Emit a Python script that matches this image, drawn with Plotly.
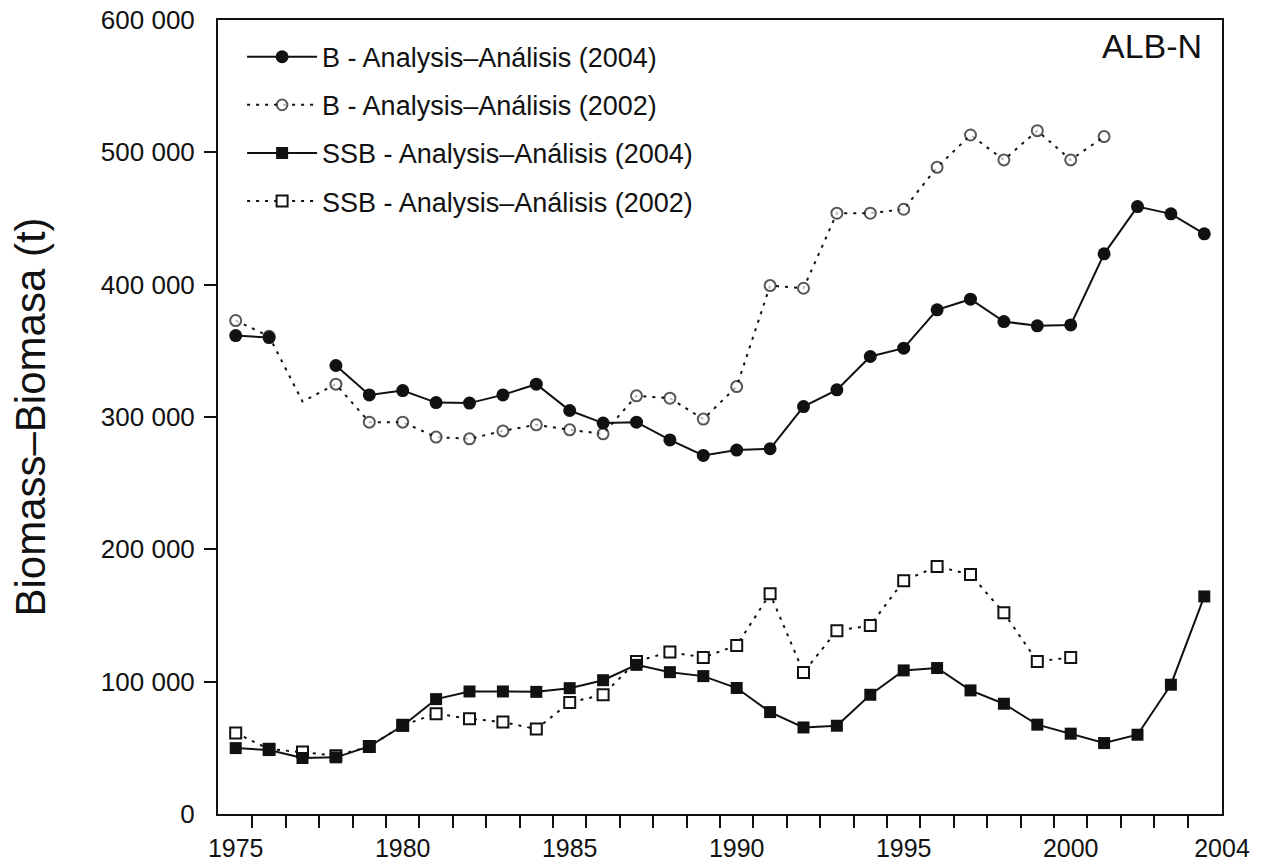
import plotly.graph_objects as go

years = list(range(1975, 2005))

# biomass (t)
b_2004 = [361500, 360000, None, 338900, 316700, 320000, 310900, 310500, 316700, 324800,
          304900, 295400, 296100, 282700, 271000, 275000, 276000, 307900, 320500, 345700,
          352000, 381000, 389000, 372100, 368900, 369600, 423300, 459000, 453500, 438400]
b_2002 = [372900, 361000, 311700, 324800, 296100, 296100, 284800, 283500, 289500, 294100,
          290300, 287300, 316000, 314200, 298400, 323000, 399300, 397300, 454000, 454000,
          457000, 488700, 513100, 494300, 516400, 494300, 511900]
ssb_2004 = [49800, 48300, 42300, 42800, 51100, 66700, 86800, 92600, 92600, 92300,
            95100, 101100, 112700, 107200, 104200, 95200, 77000, 65400, 66700, 90100,
            108500, 110300, 93400, 83300, 67500, 60700, 53600, 59900, 97700, 164400]
ssb_2002 = [61200, 49000, 46800, 44000, 51000, 67000, 75800, 72000, 69500, 64200,
            84300, 90100, 115300, 122400, 118300, 127400, 166400, 107000, 138500, 142500,
            176300, 187000, 181000, 152000, 115300, 118300]

names = ["B - Analysis\u2013An\u00e1lisis (2004)", "B - Analysis\u2013An\u00e1lisis (2002)",
         "SSB - Analysis\u2013An\u00e1lisis (2004)", "SSB - Analysis\u2013An\u00e1lisis (2002)"]
x_tick_years = [1975, 1980, 1985, 1990, 1995, 2000, 2004]
y_ticks = [0, 100000, 200000, 300000, 400000, 500000, 600000]

INK = "#111111"
FONT = "Liberation Sans, Arial, Helvetica, sans-serif"
DOTS = "3px,6px"


def add_series(fig, values, name, rank, symbol, filled, size, dash, sizes=None):
    fig.add_trace(
        go.Scatter(
            x=years[:len(values)],
            y=values,
            name=name,
            mode="lines+markers",
            line=dict(color=INK, width=2, dash=dash),
            marker=dict(
                symbol=symbol,
                size=sizes if sizes else size,
                color=INK if filled else "white",
                line=dict(color=INK, width=0 if filled else 2),
            ),
            legendgroup=name,
            legendrank=rank,
            connectgaps=False,
        )
    )
    return fig


def main():
    fig = go.Figure()
    # 2002 runs go underneath the 2004 runs
    b02_sizes = [0 if yr == 1977 else 11 for yr in years[:len(b_2002)]]
    add_series(fig, b_2002, names[1], 2, "circle", False, 11, DOTS, b02_sizes)
    add_series(fig, ssb_2002, names[3], 4, "square", False, 11, DOTS)
    add_series(fig, b_2004, names[0], 1, "circle", True, 13, "solid")
    add_series(fig, ssb_2004, names[2], 3, "square", True, 12, "solid")

    x_min, x_max = 1974.47, 2004.53
    fig.update_layout(
        width=1261,
        height=865,
        margin=dict(l=218, r=39, t=20, b=51),
        paper_bgcolor="white",
        plot_bgcolor="white",
        separators=". ",
        font=dict(family=FONT, size=26, color=INK),
        legend=dict(
            x=0.024, y=0.984, xanchor="left", yanchor="top",
            bgcolor="rgba(0,0,0,0)", itemwidth=70,
            traceorder="grouped", tracegroupgap=10,
            font=dict(family=FONT, size=27, color=INK),
        ),
        annotations=[
            dict(text="ALB-N", xref="paper", yref="paper", x=0.982, y=0.967,
                 xanchor="right", yanchor="middle", showarrow=False,
                 font=dict(family=FONT, size=34, color=INK))
        ],
    )
    fig.update_xaxes(
        range=[x_min, x_max], automargin=False,
        showline=True, linecolor=INK, linewidth=2, mirror=True,
        showgrid=False, zeroline=False,
        tickvals=x_tick_years[:-1] + [x_max],
        ticktext=[str(v) for v in x_tick_years],
        ticks="", ticklabelstandoff=11, ticklabeloverflow="allow",
        tickfont=dict(size=25),
        minor=dict(tickvals=[yr + 0.5 for yr in years[:-1]], ticks="outside",
                   ticklen=12, tickwidth=2, tickcolor=INK, showgrid=False),
    )
    fig.update_yaxes(
        range=[0, 600000], automargin=False,
        showline=True, linecolor=INK, linewidth=2, mirror=True,
        showgrid=False, zeroline=False,
        tickvals=y_ticks, tickformat=",d",
        ticks="", ticklabelstandoff=16, ticklabeloverflow="allow",
        minor=dict(tickvals=y_ticks[1:-1], ticks="outside",
                   ticklen=12, tickwidth=2, tickcolor=INK, showgrid=False),
        title=dict(text="Biomass\u2013Biomasa (t)", font=dict(family=FONT, size=42, color=INK),
                   standoff=42),
    )
    # drop the default 8px page margin so the figure fills the window exactly
    fig.write_html("out.html", config={"displayModeBar": False},
                   post_script="document.body.style.margin = '0';")


if __name__ == '__main__':
    main()
